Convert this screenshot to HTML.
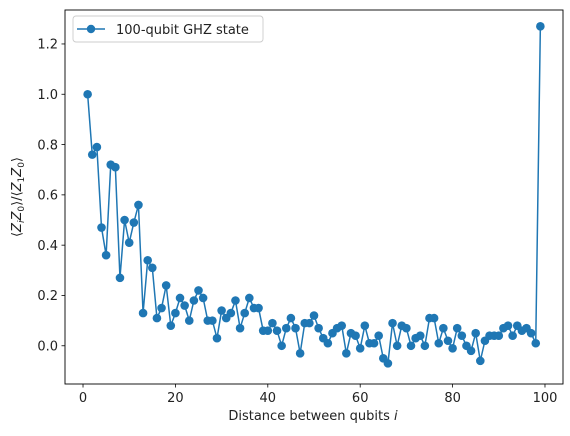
<!DOCTYPE html>
<html><head><meta charset="utf-8"><style>
body{margin:0;background:#fff;}
svg{display:block;font-family:"DejaVu Sans","Liberation Sans",sans-serif;}
</style></head><body>
<svg id="chart" width="570" height="436">
<rect x="0" y="0" width="570" height="436" fill="#fff"/>
<g id="series"></g>
<rect x="65" y="10" width="498" height="374" fill="none" stroke="#000" stroke-width="0.9"/>
<g id="axes"></g>
<text x="313" y="420" text-anchor="middle" font-size="13" fill="#222">Distance between qubits <tspan font-style="italic">i</tspan></text>
<text transform="translate(21,197) rotate(-90)" text-anchor="middle" font-size="13" fill="#222">⟨<tspan font-style="italic">Z</tspan><tspan font-size="9" dy="3" font-style="italic">i</tspan><tspan dy="-3" font-style="italic">Z</tspan><tspan font-size="9" dy="3">0</tspan><tspan dy="-3">⟩/⟨</tspan><tspan font-style="italic">Z</tspan><tspan font-size="9" dy="3">1</tspan><tspan dy="-3" font-style="italic">Z</tspan><tspan font-size="9" dy="3">0</tspan><tspan dy="-3">⟩</tspan></text>
<g>
<rect x="73" y="16" width="190" height="26" rx="3" fill="#fff" stroke="#ccc" stroke-width="0.9"/>
<line x1="77" y1="29" x2="105" y2="29" stroke="#1f77b4" stroke-width="1.5"/>
<circle cx="91" cy="29" r="4.2" fill="#1f77b4"/>
<text x="116" y="34" font-size="13" fill="#222">100-qubit GHZ state</text>
</g>
</svg>
<script>
const xValues = Array.from({length:99},(_, i)=>i+1);
const yValues = [1.00,0.76,0.79,0.47,0.36,0.72,0.71,0.27,0.50,0.41,
0.49,0.56,0.13,0.34,0.31,0.11,0.15,0.24,0.08,0.13,
0.19,0.16,0.10,0.18,0.22,0.19,0.10,0.10,0.03,0.14,
0.11,0.13,0.18,0.07,0.13,0.19,0.15,0.15,0.06,0.06,
0.09,0.06,0.00,0.07,0.11,0.07,-0.03,0.09,0.09,0.12,
0.07,0.03,0.01,0.05,0.07,0.08,-0.03,0.05,0.04,-0.01,
0.08,0.01,0.01,0.04,-0.05,-0.07,0.09,0.00,0.08,0.07,
0.00,0.03,0.04,0.00,0.11,0.11,0.01,0.07,0.02,-0.01,
0.07,0.04,0.00,-0.02,0.05,-0.06,0.02,0.04,0.04,0.04,
0.07,0.08,0.04,0.08,0.06,0.07,0.05,0.01,1.27];
const xTicks = [0,20,40,60,80,100];
const yTicks = [0.0,0.2,0.4,0.6,0.8,1.0,1.2];
const xMin=-3.9, xMax=103.9, yMin=-0.152, yMax=1.335;
const L=65,R=563,T=10,B=384;
const NS="http://www.w3.org/2000/svg";
function sx(v){return L+(v-xMin)/(xMax-xMin)*(R-L);}
function sy(v){return B-(v-yMin)/(yMax-yMin)*(B-T);}
const axes=document.getElementById('axes'), series=document.getElementById('series');
function mk(tag,attrs,parent){const e=document.createElementNS(NS,tag);for(const k in attrs)e.setAttribute(k,attrs[k]);parent.appendChild(e);return e;}
xTicks.forEach(t=>{
  const x=sx(t);
  const l=mk('line',{x1:x,x2:x,y1:B,y2:B+3.5,stroke:'#000','stroke-width':0.8},axes);
  
  
  const tx=mk('text',{x:x,y:B+18,'text-anchor':'middle','font-size':13,fill:'#222'},axes);
  tx.textContent=String(t);
  
  
});
yTicks.forEach(t=>{
  const y=sy(t);
  const l=mk('line',{x1:L-3.5,x2:L,y1:y,y2:y,stroke:'#000','stroke-width':0.8},axes);
  
  
  const tx=mk('text',{x:L-7,y:y+4.7,'text-anchor':'end','font-size':13,fill:'#222'},axes);
  tx.textContent=t.toFixed(1);
  
  
});
const pts=xValues.map((x,i)=>sx(x).toFixed(2)+','+sy(yValues[i]).toFixed(2)).join(' ');
const pl=mk('polyline',{points:pts,fill:'none',stroke:'#1f77b4','stroke-width':1.5,'stroke-linejoin':'round'},series);


xValues.forEach((x,i)=>{
  const c=mk('circle',{cx:sx(x),cy:sy(yValues[i]),r:4.3,fill:'#1f77b4'},series);
  
  
});
</script>
</body></html>
